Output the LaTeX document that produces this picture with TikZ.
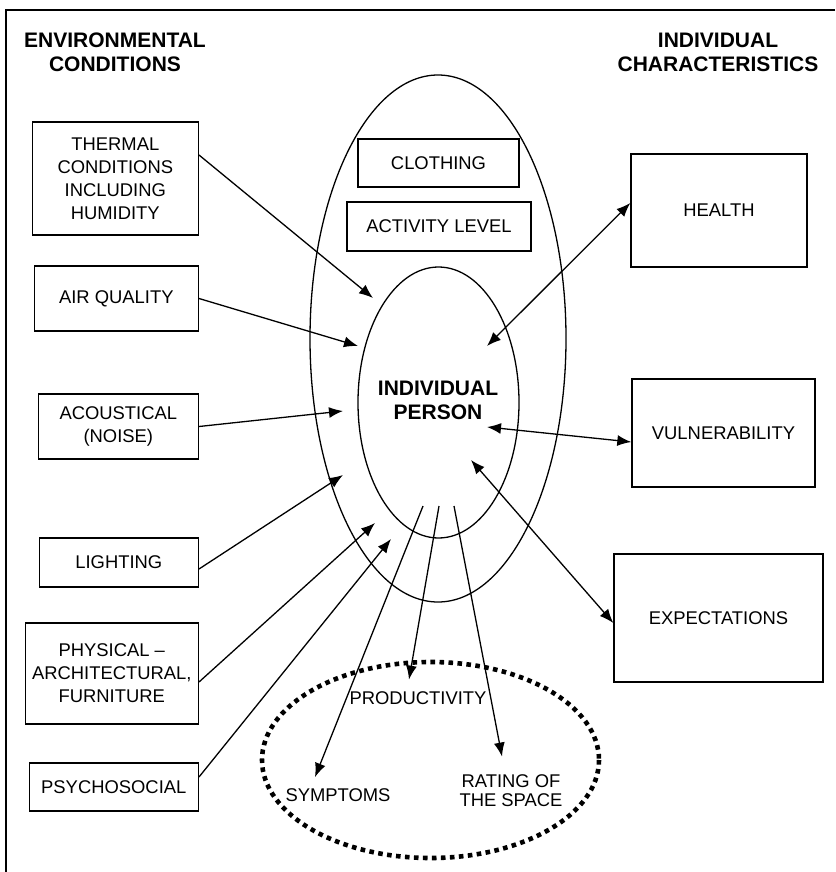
\documentclass[tikz,border=0pt]{standalone}
\usepackage{fontspec}
\setmainfont{Liberation Sans}
\usetikzlibrary{arrows.meta}
\tikzset{
  envbox/.style={draw, line width=0.7pt, align=center, inner sep=1pt, font=\fontsize{9.2}{11.5}\selectfont},
  head/.style={align=center, inner sep=1pt, font=\bfseries\fontsize{10.5}{12}\selectfont},
  outtext/.style={align=center, inner sep=1pt, font=\fontsize{9.2}{9.5}\selectfont},
  arr/.style={-{Latex[length=7pt,width=5.5pt]}, line width=0.65pt},
  biarr/.style={{Latex[length=7pt,width=5.5pt]}-{Latex[length=7pt,width=5.5pt]}, line width=0.65pt}
}
\begin{document}
\begin{tikzpicture}[x=0.5pt,y=-0.5pt]
    \useasboundingbox (0,0) rectangle (835,872);
    % Frame, only its top and left sides show
    \draw[line width=0.6pt] (835,10) -- (6,10) -- (6,872);
    % Headings
    \node[head] (envhead) at (115,52) {ENVIRONMENTAL\\CONDITIONS};
    \node[head] (indhead) at (718,52) {INDIVIDUAL\\CHARACTERISTICS};
    % Ellipses round the person and the outcomes
    \draw[line width=0.65pt] (438,338.5) ellipse [x radius=128, y radius=263.5];
    \draw[line width=0.65pt] (438.5,402.5) ellipse [x radius=80.5, y radius=135.5];
    \draw[line width=2.3pt, dash pattern=on 2.3pt off 2.2pt] (430.5,760) ellipse [x radius=168.5, y radius=98];
    \node[head] (person) at (438,400) {INDIVIDUAL\\PERSON};
    % Boxes in the outer ellipse
    \node[envbox, minimum width=80.5pt, minimum height=24pt] (clothing) at (438.5,163) {CLOTHING};
    \node[envbox, minimum width=92pt, minimum height=24.5pt] (activity) at (439,226.5) {ACTIVITY LEVEL};
    % Environmental conditions, right edges lined up
    \foreach \name/\y/\w/\h/\txt in {thermal/178.5/83pt/56.5pt/{THERMAL\\CONDITIONS\\INCLUDING\\HUMIDITY},
        air/298.5/82pt/32.5pt/{AIR QUALITY}, noise/426.5/80pt/32.5pt/{ACOUSTICAL\\(NOISE)},
        lighting/562.5/79.5pt/24.5pt/{LIGHTING}, physical/673.5/86.5pt/50.5pt/{PHYSICAL –\\ARCHITECTURAL,\\FURNITURE},
        psycho/787/84.5pt/24pt/{PSYCHOSOCIAL}} {
        \node[envbox, anchor=east, minimum width=\w, minimum height=\h] (\name) at (199,\y) {\txt};
    }
    % Individual characteristics
    \node[envbox, minimum width=88pt, minimum height=56.5pt] (health) at (719,210.5) {HEALTH};
    \node[envbox, minimum width=91.5pt, minimum height=54pt] (vuln) at (723.5,433) {VULNERABILITY};
    \node[envbox, minimum width=104.5pt, minimum height=64pt] (expect) at (718.5,618) {EXPECTATIONS};
    % Outcomes
    \node[outtext] (prod) at (418,698) {PRODUCTIVITY};
    \node[outtext] (sympt) at (338,795) {SYMPTOMS};
    \node[outtext] (rating) at (511,790.5) {RATING OF\\THE SPACE};
    % Free ends of the arrows round the person
    \foreach \n/\x/\y in {tin/373/298, ain/358/346, nin/343/411, lin/343/475, pin/375/523, sin/391/539,
        hin/487/346, vin/487/427, ein/471/460, sout/423/506, pout/439/506, rout/454/506} {
        \coordinate (\n) at (\x,\y);
    }
    % Arrows in from the conditions
    \foreach \src/\dy/\dst in {thermal/11.75/tin, air/0/ain, noise/0/nin, lighting/-3.25/lin, physical/-4.25/pin, psycho/5/sin} {
        \draw[arr] ([yshift=\dy pt]\src.east) -- (\dst);
    }
    % Two-way arrows to the characteristics
    \draw[biarr] (hin) -- ([yshift=3.75pt]health.west);
    \draw[biarr] (vin) -- ([yshift=-4.5pt]vuln.west);
    \draw[biarr] (ein) -- ([yshift=-2.5pt]expect.west);
    % Arrows out to the outcomes
    \draw[arr] (sout) -- ([shift={(-11.5pt,4.5pt)}]sympt.north);
    \draw[arr] (pout) -- ([shift={(-4.5pt,4.75pt)}]prod.north);
    \draw[arr] (rout) -- ([shift={(-4.5pt,7.75pt)}]rating.north);
\end{tikzpicture}
\end{document}
